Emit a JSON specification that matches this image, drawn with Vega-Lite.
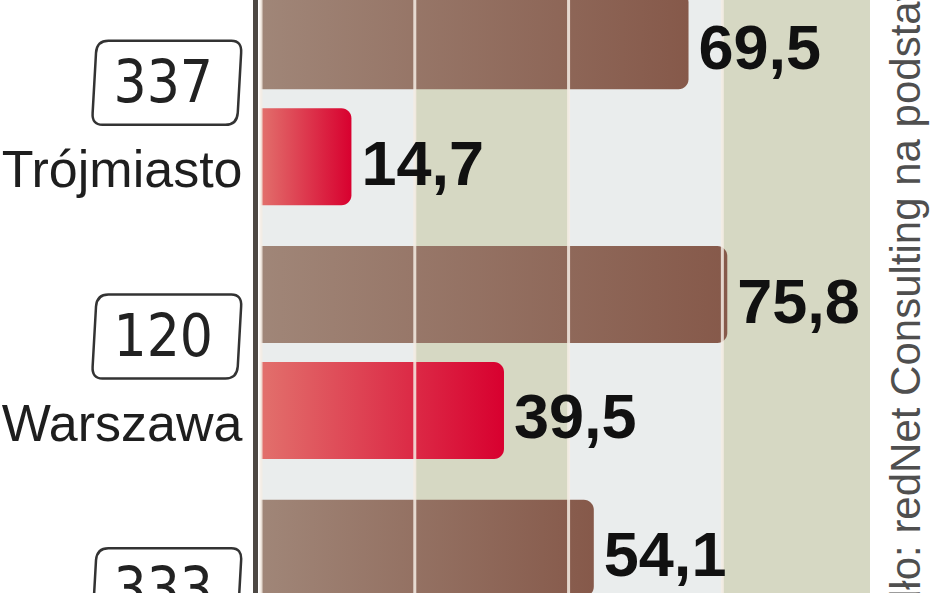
{
  "$schema": "https://vega.github.io/schema/vega-lite/v6.json",
  "width": 609,
  "height": 593,
  "autosize": {"type": "none"},
  "padding": {"left": 261, "right": 78, "top": 0, "bottom": 0},
  "background": "white",
  "title": {
    "text": "Źródło: redNet Consulting na podstawie danych",
    "orient": "right",
    "anchor": "end",
    "angle": 270,
    "align": "left",
    "baseline": "alphabetic",
    "font": "Liberation Sans",
    "fontSize": 42,
    "fontWeight": "normal",
    "color": "#4f4f4f",
    "offset": 8,
    "dx": 85
  },
  "datasets": {
    "slupki": [
      {"miasto": "Trójmiasto", "seria": "s1", "wartosc": 69.5},
      {"miasto": "Trójmiasto", "seria": "s2", "wartosc": 14.7},
      {"miasto": "Warszawa", "seria": "s1", "wartosc": 75.8},
      {"miasto": "Warszawa", "seria": "s2", "wartosc": 39.5},
      {"miasto": "", "seria": "s1", "wartosc": 54.1}
    ],
    "liczby": [
      {"miasto": "Trójmiasto", "liczba": 337},
      {"miasto": "Warszawa", "liczba": 120},
      {"miasto": "", "liczba": 333}
    ],
    "pasy": [
      {"od": 25, "do": 50},
      {"od": 75, "do": 100}
    ],
    "siatka": [
      {"x": 0}, {"x": 25}, {"x": 50}, {"x": 75}
    ]
  },
  "layer": [
    {
      "data": {"name": "pasy"},
      "mark": {"type": "rect", "color": "#d6d8c3", "clip": true},
      "encoding": {
        "x": {"field": "od", "type": "quantitative", "scale": {"domain": [0, 99], "nice": false}, "axis": null},
        "x2": {"field": "do"}
      }
    },
    {
      "data": {"name": "slupki"},
      "transform": [{"filter": "datum.seria === 's1'"}],
      "mark": {
        "type": "bar",
        "cornerRadiusEnd": 10,
        "color": {
          "gradient": "linear", "x1": 0, "x2": 1, "y1": 0, "y2": 0,
          "stops": [{"offset": 0, "color": "#a08678"}, {"offset": 1, "color": "#86594a"}]
        }
      },
      "encoding": {
        "x": {"field": "wartosc", "type": "quantitative", "stack": null, "scale": {"domain": [0, 99], "nice": false}, "axis": null},
        "y": {"field": "miasto", "type": "nominal", "title": null, "scale": {"domain": ["Trójmiasto", "Warszawa", ""], "range": [-28, 733], "paddingInner": 0, "paddingOuter": 0}},
        "yOffset": {"field": "seria", "type": "nominal", "scale": {"domain": ["s1", "s2"], "paddingInner": 0.164, "paddingOuter": 0.176}}
      }
    },
    {
      "data": {"name": "slupki"},
      "transform": [{"filter": "datum.seria === 's2'"}],
      "mark": {
        "type": "bar",
        "cornerRadiusEnd": 10,
        "color": {
          "gradient": "linear", "x1": 0, "x2": 1, "y1": 0, "y2": 0,
          "stops": [{"offset": 0, "color": "#e2706c"}, {"offset": 1, "color": "#d8002f"}]
        }
      },
      "encoding": {
        "x": {"field": "wartosc", "type": "quantitative", "stack": null, "scale": {"domain": [0, 99], "nice": false}, "axis": null},
        "y": {"field": "miasto", "type": "nominal", "title": null, "scale": {"domain": ["Trójmiasto", "Warszawa", ""], "range": [-28, 733], "paddingInner": 0, "paddingOuter": 0}},
        "yOffset": {"field": "seria", "type": "nominal", "scale": {"domain": ["s1", "s2"], "paddingInner": 0.164, "paddingOuter": 0.176}}
      }
    },
    {
      "data": {"name": "siatka"},
      "mark": {"type": "rule", "color": "#f4ece4", "strokeWidth": 3, "opacity": 0.85},
      "encoding": {
        "x": {"field": "x", "type": "quantitative", "scale": {"domain": [0, 99], "nice": false}, "axis": null}
      }
    },
    {
      "data": {"name": "slupki"},
      "mark": {"type": "text", "align": "left", "baseline": "middle", "dx": 10, "dy": 9, "font": "Liberation Sans", "fontWeight": "bold", "fontSize": 63, "color": "#111111"},
      "encoding": {
        "x": {"field": "wartosc", "type": "quantitative", "scale": {"domain": [0, 99], "nice": false}, "axis": null},
        "y": {"field": "miasto", "type": "nominal", "title": null, "scale": {"domain": ["Trójmiasto", "Warszawa", ""], "range": [-28, 733], "paddingInner": 0, "paddingOuter": 0}},
        "yOffset": {"field": "seria", "type": "nominal", "scale": {"domain": ["s1", "s2"], "paddingInner": 0.164, "paddingOuter": 0.176}},
        "text": {"field": "wartosc", "type": "quantitative", "format": ".1f"}
      }
    },
    {
      "data": {"name": "liczby"},
      "mark": {
        "type": "point",
        "shape": "M -0.78 -0.56 L 0.86 -0.56 Q 1.0 -0.56 0.99 -0.40 L 0.945 0.40 Q 0.933 0.56 0.78 0.56 L -0.86 0.56 Q -1.0 0.56 -0.99 0.40 L -0.945 -0.40 Q -0.933 -0.56 -0.78 -0.56 Z",
        "size": 22500,
        "filled": false,
        "stroke": "#333333",
        "strokeWidth": 2.5,
        "opacity": 1,
        "yOffset": -16
      },
      "encoding": {
        "x": {"datum": -15.3, "type": "quantitative", "scale": {"domain": [0, 99], "nice": false}, "axis": null},
        "y": {"field": "miasto", "type": "nominal", "title": null, "scale": {"domain": ["Trójmiasto", "Warszawa", ""], "range": [-28, 733], "paddingInner": 0, "paddingOuter": 0}}
      }
    },
    {
      "data": {"name": "liczby"},
      "mark": {"type": "text", "align": "right", "baseline": "middle", "yOffset": -14, "font": "Liberation Sans Narrow, DejaVu Sans Condensed", "fontSize": 58, "color": "#222222"},
      "encoding": {
        "x": {"datum": -7.8, "type": "quantitative", "scale": {"domain": [0, 99], "nice": false}, "axis": null},
        "y": {"field": "miasto", "type": "nominal", "title": null, "scale": {"domain": ["Trójmiasto", "Warszawa", ""], "range": [-28, 733], "paddingInner": 0, "paddingOuter": 0}},
        "text": {"field": "liczba", "type": "nominal"}
      }
    }
  ],
  "config": {
    "locale": {"number": {"decimal": ",", "thousands": " ", "grouping": [3], "currency": ["", " zł"]}},
    "view": {"stroke": null, "fill": "#eaeded"},
    "axisY": {
      "offset": 6,
      "domainColor": "#4d4844",
      "domainWidth": 5,
      "ticks": false,
      "tickSize": 0,
      "grid": false,
      "labelPadding": 13,
      "labelFont": "Liberation Sans",
      "labelFontSize": 52,
      "labelColor": "#1e1e1e",
      "labelLimit": 400,
      "labelOffset": 72,
      "labelAlign": "right",
      "labelBaseline": "middle"
    }
  }
}
